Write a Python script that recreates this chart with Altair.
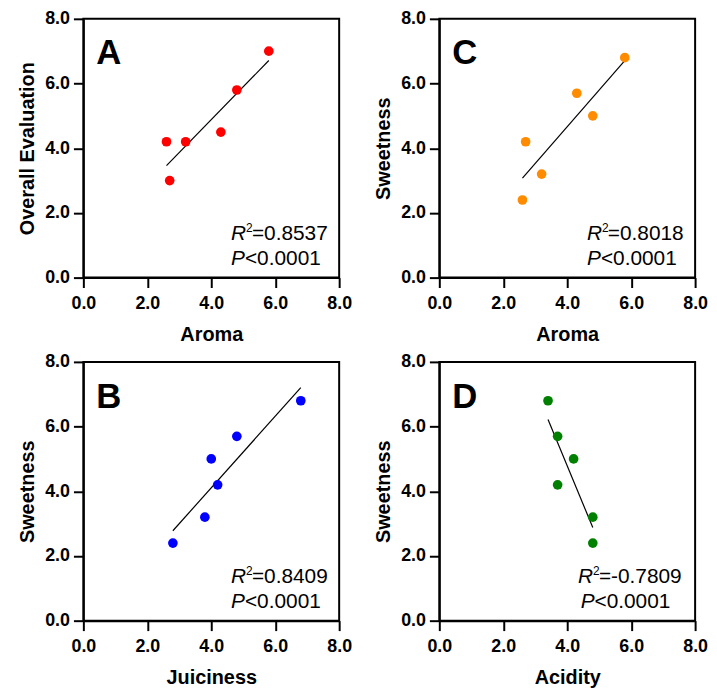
import altair as alt
import pandas as pd

# ---- data ----
aroma = [2.6, 2.7, 3.2, 4.3, 4.8, 5.8]
overall = [4.2, 3.0, 4.2, 4.5, 5.8, 7.0]

aroma_c = [2.6, 2.7, 3.2, 4.3, 4.8, 5.8]
sweet_c = [2.4, 4.2, 3.2, 5.7, 5.0, 6.8]

juiciness = [2.8, 3.8, 4.0, 4.2, 4.8, 6.8]
sweet_b = [2.4, 3.2, 5.0, 4.2, 5.7, 6.8]

acidity = [3.4, 3.7, 4.2, 3.7, 4.8, 4.8]
sweet_d = [6.8, 5.7, 5.0, 4.2, 3.2, 2.4]

letters = ["A", "C", "B", "D"]
r2_texts = ["=0.8537", "=0.8018", "=0.8409", "=-0.7809"]
p_text = "<0.0001"
tick_values = [0, 2, 4, 6, 8]

FONT = "Liberation Sans"
W = 258
H = 261


def panel(xs, ys, color, xtitle, ytitle, letter, r2, tx, ptx):
    df = pd.DataFrame({"x": xs, "y": ys})
    xenc = alt.X("x:Q", scale=alt.Scale(domain=[0, 8], nice=False),
                 axis=alt.Axis(values=tick_values, format=".1f", title=xtitle))
    yenc = alt.Y("y:Q", scale=alt.Scale(domain=[0, 8], nice=False),
                 axis=alt.Axis(values=tick_values, format=".1f", title=ytitle))
    base = alt.Chart(df)
    pts = base.mark_circle(size=95, color=color, opacity=1).encode(x=xenc, y=yenc)
    line = base.transform_regression("x", "y").mark_line(
        color="black", strokeWidth=1.2).encode(x="x:Q", y="y:Q")

    def txt(s, x, y, dx=0, dy=0, size=21, style="normal", weight="normal"):
        return alt.Chart(pd.DataFrame({"t": [s]})).mark_text(
            align="left", baseline="alphabetic", font=FONT, fontSize=size,
            fontStyle=style, fontWeight=weight, color="black", dx=dx, dy=dy
        ).encode(x=alt.datum(x), y=alt.datum(y), text="t:N")

    r_y = 1.17
    p_y = 0.40
    layers = [
        line, pts,
        txt("R", tx, r_y, style="italic"),
        txt("2", tx, r_y, dx=15, dy=-8, size=12),
        txt(r2, tx, r_y, dx=21),
        txt("P", ptx, p_y, style="italic"),
        txt(p_text, ptx, p_y, dx=14),
        alt.Chart(pd.DataFrame({"t": [letter]})).mark_text(
            align="left", baseline="alphabetic", font=FONT, fontSize=35,
            fontWeight="bold", color="black"
        ).encode(x=alt.value(13), y=alt.value(46), text="t:N"),
    ]
    return alt.layer(*layers).properties(width=W, height=H)


pA = panel(aroma, overall, "#FF0000", "Aroma", "Overall Evaluation", letters[0], r2_texts[0], 4.62, 4.62)
pC = panel(aroma_c, sweet_c, "#FF8C00", "Aroma", "Sweetness", letters[1], r2_texts[1], 4.62, 4.62)
pB = panel(juiciness, sweet_b, "#0000FF", "Juiciness", "Sweetness", letters[2], r2_texts[2], 4.62, 4.62)
pD = panel(acidity, sweet_d, "#008000", "Acidity", "Sweetness", letters[3], r2_texts[3], 4.34, 4.42)

chart = alt.vconcat(
    alt.hconcat(pA, pC, spacing=19),
    alt.hconcat(pB, pD, spacing=19),
    spacing=7,
).properties(
    padding={"left": 8, "top": -2, "right": 0, "bottom": 0},
    background="white",
).configure_view(
    stroke="black", strokeWidth=2
).configure_axis(
    grid=False,
    domainColor="black", domainWidth=2,
    tickColor="black", tickWidth=2, tickSize=10,
    labelFont=FONT, labelFontSize=18, labelFontWeight="bold", labelColor="black",
    labelFlush=False,
    titleFont=FONT, titleFontSize=20, titleFontWeight="bold", titleColor="black",
).configure_axisX(
    labelPadding=7, titlePadding=12,
).configure_axisY(
    labelPadding=4, titlePadding=7,
)

chart.save("out.html", embed_options={"renderer": "svg", "actions": False})
